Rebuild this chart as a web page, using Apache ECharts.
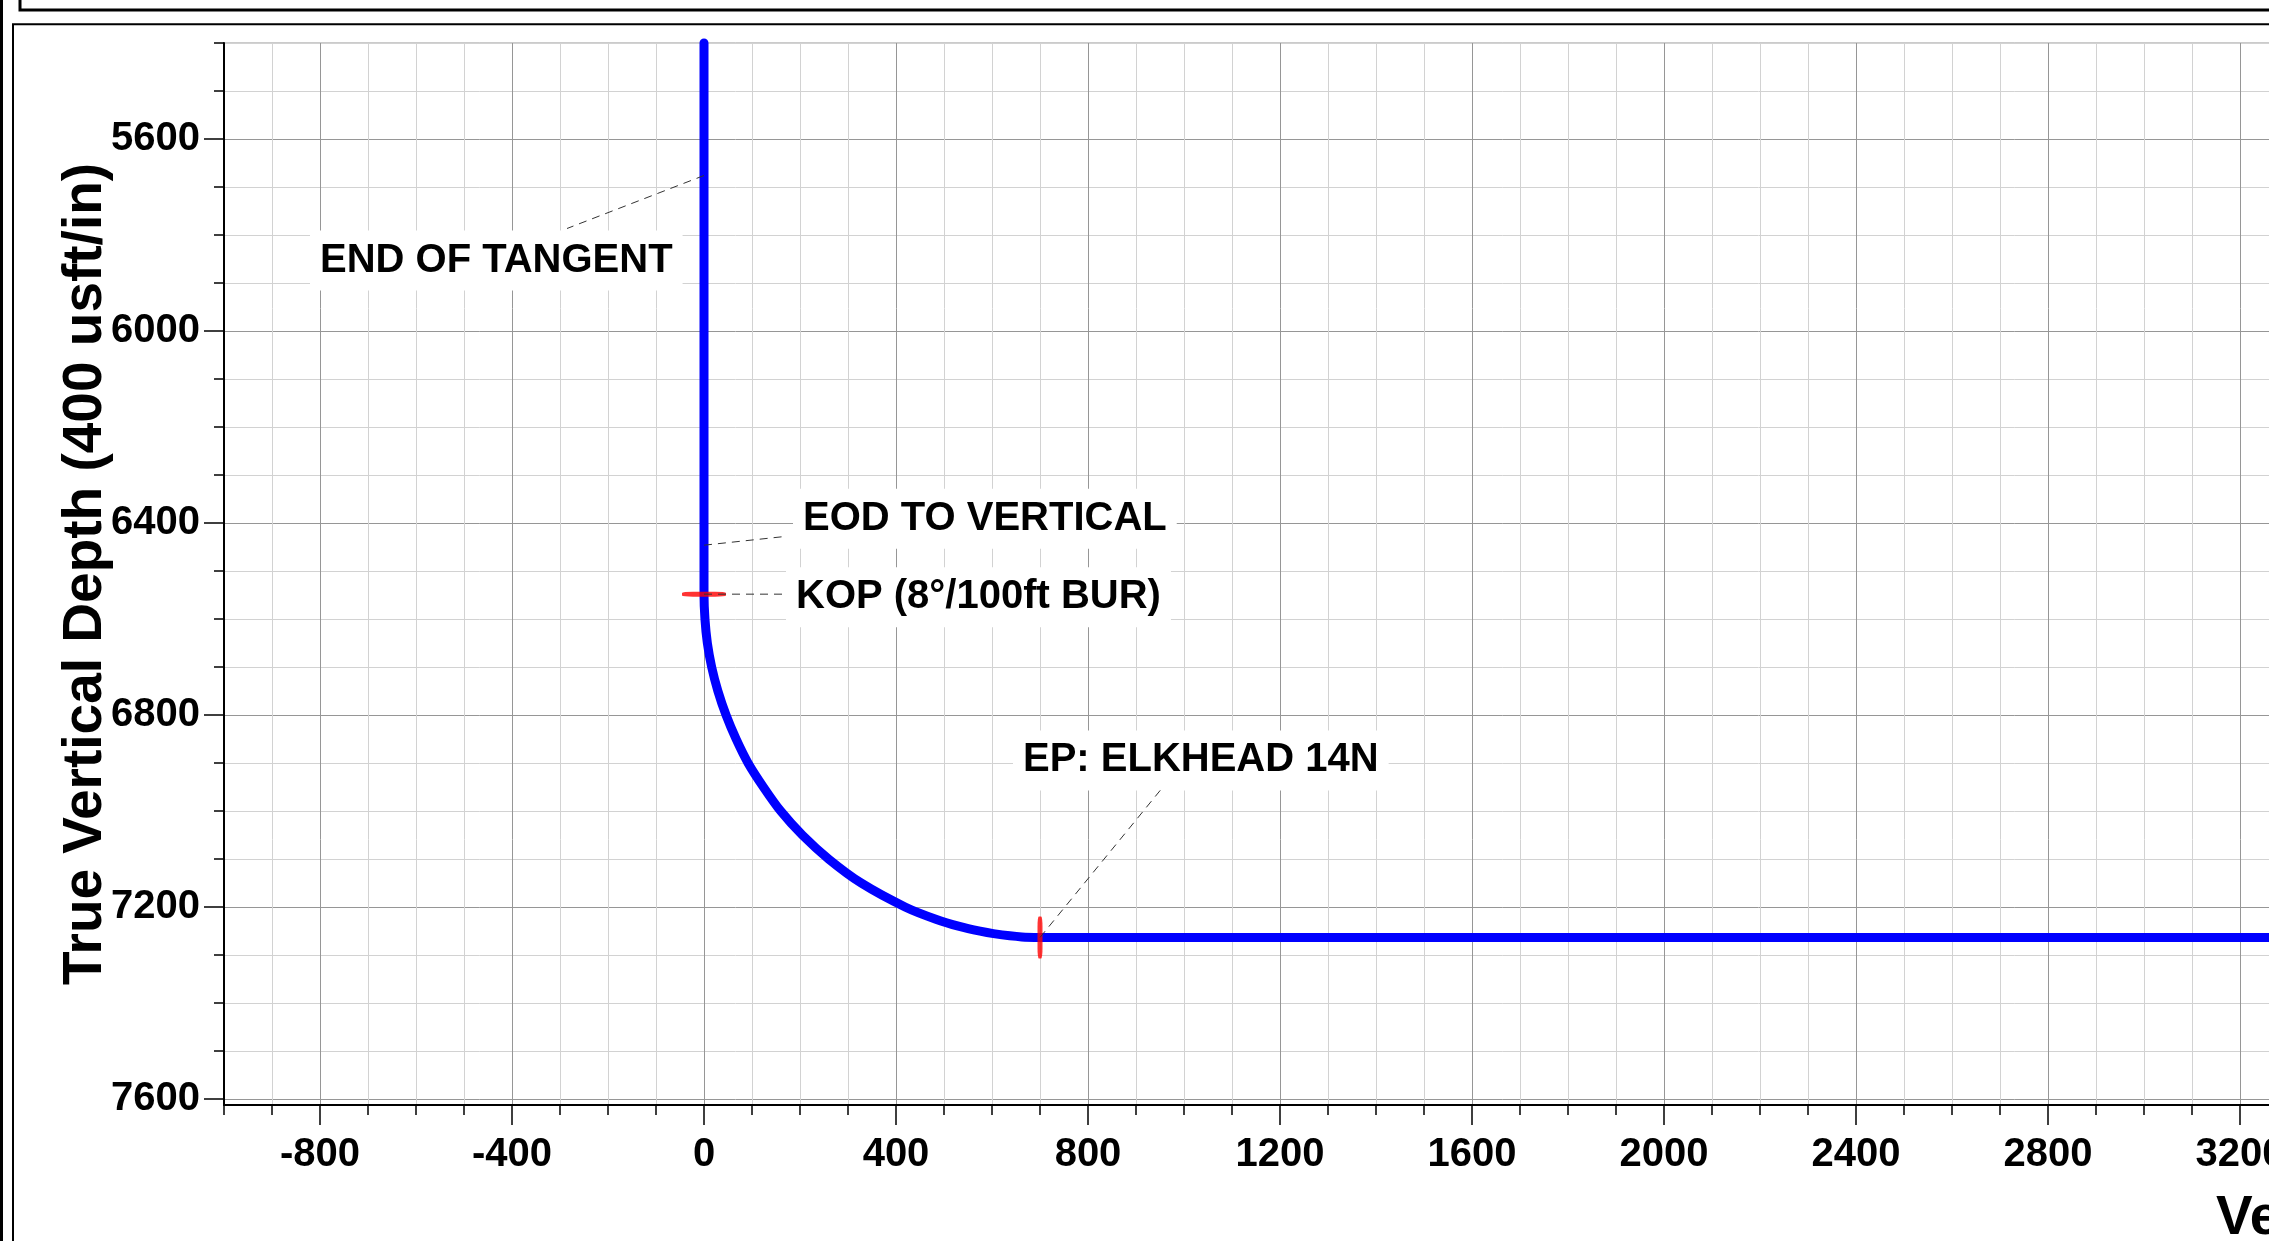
<!DOCTYPE html>
<html>
<head>
<meta charset="utf-8">
<script src="https://cdn.jsdelivr.net/npm/echarts@6/dist/echarts.min.js"></script>
<style>
html,body{margin:0;padding:0;background:#fff;overflow:hidden}
#main{width:2269px;height:1241px}
</style>
</head>
<body>
<div id="main"></div>
<script>
// ---------- data ----------
// well trajectory: vertical section (usft) and true vertical depth (usft)
const trajVS  = [0,    0,    2,    7,    16,   29,   46,   67,   92,   124,  160,  205,  260,  328,  420,  483,  532,  575,  603,  662,  700,  3300];
const trajTVD = [5400, 6548, 6600, 6650, 6700, 6750, 6800, 6850, 6900, 6950, 7000, 7050, 7100, 7150, 7200, 7225, 7240, 7250, 7255, 7262, 7263, 7263];

// red survey markers
const markerNames = ['KOP', 'EP'];
const markerVS  = [0, 700];
const markerTVD = [6548, 7263];

// annotations (anchor points on the well path)
const noteTexts = ['END OF TANGENT', 'EOD TO VERTICAL', 'KOP (8°/100ft BUR)', 'EP: ELKHEAD 14N'];
const noteVS  = [0, 0, 0, 700];
const noteTVD = [5676, 6446, 6548, 7263];

// axes
const xMajorTicks = [-800, -400, 0, 400, 800, 1200, 1600, 2000, 2400, 2800, 3200, 3600, 4000, 4400, 4800, 5200, 5600, 6000, 6400, 6800, 7200];
const yMajorTicks = [5600, 6000, 6400, 6800, 7200, 7600];
const yMinorTicks = [5400, 5500, 5600, 5700, 5800, 5900, 6000, 6100, 6200, 6300, 6400, 6500, 6600, 6700, 6800, 6900, 7000, 7100, 7200, 7300, 7400, 7500, 7600];
const xName = 'Vertical Section at 0.00° (400 usft/in)';
const yName = 'True Vertical Depth (400 usft/in)';
const X_MIN = -1000, X_MAX = 7300, Y_MIN = 5400, Y_MAX = 7612;

// ---------- chart ----------
const FONT = '"Liberation Sans", Arial, Helvetica, sans-serif';
const MAJOR = '#969696', MINOR = '#d2d2d2';
const lblStyle = {color: '#000', fontFamily: FONT, fontWeight: 'bold', fontSize: 40};
const nameStyle = {color: '#000', fontFamily: FONT, fontWeight: 'bold', fontSize: 55};
const fmt = v => String(v);

const chart = echarts.init(document.getElementById('main'), null, {renderer: 'canvas', width: 2269, height: 1241});

const option = {
  animation: false,
  backgroundColor: '#ffffff',
  grid: {
    left: 224, top: 43, right: -1939, bottom: 136,
    containLabel: false, outerBoundsMode: 'none',
    show: true, borderColor: MAJOR, borderWidth: 1, backgroundColor: 'transparent'
  },
  xAxis: [
    {
      type: 'value', min: X_MIN, max: X_MAX, interval: 100, position: 'bottom',
      axisLine: {show: true, onZero: false, lineStyle: {color: '#000', width: 2}},
      axisTick: {show: true, length: 10, lineStyle: {color: '#000', width: 1.5}},
      axisLabel: {show: false},
      splitLine: {show: true, lineStyle: {color: [MINOR, MINOR, MAJOR, MINOR], width: 1}},
      name: xName, nameLocation: 'middle', nameGap: 86,
      nameTextStyle: Object.assign({align: 'left'}, nameStyle)
    },
    {
      type: 'value', min: X_MIN, max: X_MAX, interval: 100, position: 'bottom',
      axisLine: {show: false, onZero: false},
      axisTick: {show: true, length: 20, customValues: xMajorTicks, lineStyle: {color: '#000', width: 1.5}},
      axisLabel: Object.assign({show: true, customValues: xMajorTicks, margin: 30, formatter: fmt}, lblStyle),
      splitLine: {show: false}
    }
  ],
  yAxis: [
    {
      type: 'value', inverse: true, min: Y_MIN, max: Y_MAX, interval: 100, position: 'left',
      axisLine: {show: true, onZero: false, lineStyle: {color: '#000', width: 2}},
      axisTick: {show: true, length: 10, customValues: yMinorTicks, lineStyle: {color: '#000', width: 1.5}},
      axisLabel: {show: false},
      splitLine: {show: true, lineStyle: {color: [MINOR, MINOR, MAJOR, MINOR], width: 1}},
      name: yName, nameLocation: 'middle', nameGap: 111,
      nameTextStyle: nameStyle
    },
    {
      type: 'value', inverse: true, min: Y_MIN, max: Y_MAX, interval: 100, position: 'left',
      axisLine: {show: false, onZero: false},
      axisTick: {show: true, length: 20, customValues: yMajorTicks, lineStyle: {color: '#000', width: 1.5}},
      axisLabel: Object.assign({show: true, customValues: yMajorTicks, margin: 24, formatter: fmt, padding: [5, 0, 0, 0]}, lblStyle),
      splitLine: {show: false}
    }
  ],
  series: [
    {
      name: 'Well path', type: 'line', xAxisIndex: 0, yAxisIndex: 0,
      data: trajVS.map((v, i) => [v, trajTVD[i]]),
      showSymbol: false, symbol: 'none', clip: false, silent: true, z: 3, smooth: 0.25,
      lineStyle: {color: '#0000ff', width: 9, cap: 'round', join: 'round'}
    },
    {
      name: 'Markers', type: 'scatter', xAxisIndex: 0, yAxisIndex: 0, clip: false, silent: true, z: 4,
      data: markerVS.map((v, i) => ({
        name: markerNames[i], value: [v, markerTVD[i]], symbol: 'roundRect',
        symbolSize: markerNames[i] === 'KOP' ? [44, 5] : [5, 42]
      })),
      itemStyle: {color: '#ff0000'}
    }
  ]
};
chart.setOption(option);

// annotation label placement (pixel offsets from the anchor point)
const noteLayout = [
  {tx: -394, ty: 85,    lx: -137, ly: 53},
  {tx: 89,   ty: -26.5, lx: 83.5, ly: -9},
  {tx: 82,   ty: 3,     lx: 83,   ly: 0},
  {tx: -27,  ty: -177,  lx: 121,  ly: -148}
];
const els = [
  // page frame
  {type: 'line', shape: {x1: 1.5, y1: 0, x2: 1.5, y2: 1241}, style: {stroke: '#000', lineWidth: 3}, z: 50},
  {type: 'rect', shape: {x: 20, y: -20, width: 2400, height: 30}, style: {fill: 'none', stroke: '#000', lineWidth: 3}, z: 50},
  {type: 'rect', shape: {x: 13, y: 24.3, width: 2400, height: 1300}, style: {fill: 'none', stroke: '#000', lineWidth: 2}, z: 50}
];
noteTexts.forEach((t, i) => {
  const p = chart.convertToPixel({xAxisIndex: 0, yAxisIndex: 0}, [noteVS[i], noteTVD[i]]);
  const L = noteLayout[i];
  els.push({
    type: 'text', z: 1,
    style: {
      text: t, x: p[0] + L.tx, y: p[1] + L.ty, fill: '#000',
      font: 'bold 40px ' + FONT, align: 'left', verticalAlign: 'middle',
      backgroundColor: '#ffffff', padding: [10, 10, 10, 10]
    }
  });
  els.push({
    type: 'line', z: 10,
    shape: {x1: p[0], y1: p[1], x2: p[0] + L.lx, y2: p[1] + L.ly},
    style: {stroke: '#333', lineWidth: 1, lineDash: [8, 6]}
  });
});
chart.setOption({graphic: {elements: els}});
</script>
</body>
</html>
